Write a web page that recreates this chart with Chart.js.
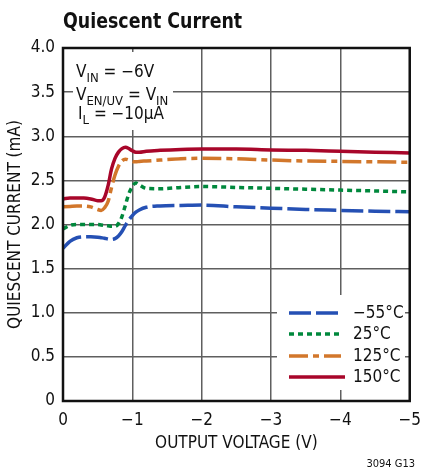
<!DOCTYPE html>
<html>
<head>
<meta charset="utf-8">
<script src="https://cdn.jsdelivr.net/npm/chart.js@4.4.1/dist/chart.umd.min.js"></script>
<style>
  html, body { margin: 0; padding: 0; background: #fff; }
  #wrap { width: 430px; height: 473px; position: relative; }
</style>
</head>
<body>
<div id="wrap"><canvas id="myChart"></canvas></div>
<script>
// output voltage (V), shared by all curves
const voltages = [0, -0.1, -0.2, -0.3, -0.4, -0.5, -0.55, -0.6, -0.65, -0.7, -0.75, -0.8, -0.85, -0.9,
  -0.95, -1.0, -1.05, -1.1, -1.2, -1.4, -1.7, -2, -2.5, -3, -3.5, -4, -4.5, -5];

// quiescent current (mA) per temperature
const iqM55 = [1.73, 1.81, 1.85, 1.86, 1.86, 1.855, 1.85, 1.845, 1.835, 1.83, 1.84, 1.87, 1.92, 1.99,
  2.05, 2.10, 2.14, 2.165, 2.195, 2.21, 2.215, 2.22, 2.20, 2.185, 2.17, 2.16, 2.15, 2.145];
const iq25 = [1.95, 1.99, 2.00, 2.00, 2.00, 2.00, 1.995, 1.99, 1.985, 1.98, 1.98, 2.01, 2.09, 2.22,
  2.35, 2.43, 2.47, 2.45, 2.41, 2.405, 2.42, 2.43, 2.42, 2.41, 2.40, 2.39, 2.38, 2.37];
const iq125 = [2.20, 2.205, 2.21, 2.21, 2.20, 2.17, 2.16, 2.19, 2.26, 2.42, 2.56, 2.66, 2.72, 2.74,
  2.73, 2.715, 2.71, 2.715, 2.72, 2.73, 2.745, 2.75, 2.745, 2.73, 2.72, 2.715, 2.71, 2.705];
const iq150 = [2.29, 2.30, 2.30, 2.30, 2.29, 2.27, 2.27, 2.31, 2.44, 2.63, 2.75, 2.82, 2.86, 2.875,
  2.86, 2.835, 2.82, 2.82, 2.83, 2.84, 2.85, 2.855, 2.855, 2.845, 2.84, 2.83, 2.82, 2.81];

const seriesLabels = ["\u221255\u00b0C", "25\u00b0C", "125\u00b0C", "150\u00b0C"];
const xTicks = [0, -1, -2, -3, -4, -5];
const yTicks = [0, 0.5, 1.0, 1.5, 2.0, 2.5, 3.0, 3.5, 4.0];

const FONT = "'Liberation Sans Narrow', 'DejaVu Sans Condensed', 'Roboto Condensed', sans-serif";
const styles = [
  { color: "#2550b4", dash: [22, 5] },
  { color: "#00883c", dash: [5, 4] },
  { color: "#d2772b", dash: [19, 5, 6, 5] },
  { color: "#a8062a", dash: [] },
];

function pts(vals) {
  return voltages.map((v, i) => ({ x: v, y: vals[i] }));
}

const allSeries = [iqM55, iq25, iq125, iq150];

// white boxes, notes, legend, frame, title
const decor = {
  id: "decor",
  beforeDatasetsDraw(chart) {
    const ctx = chart.ctx;
    ctx.save();
    ctx.fillStyle = "#fff";
    ctx.fillRect(73, 52, 100, 78);
    ctx.fillRect(277, 295, 128, 95);

    ctx.fillStyle = "#111";
    ctx.textBaseline = "alphabetic";
    const big = "17px " + FONT, small = "13px " + FONT;
    function line(parts, x, y) {
      parts.forEach(p => {
        ctx.font = p.sub ? small : big;
        ctx.fillText(p.t, x, y + (p.sub ? 5 : 0));
        x += ctx.measureText(p.t).width;
      });
    }
    line([{ t: "V" }, { t: "IN", sub: 1 }, { t: " = \u22126V" }], 76, 77);
    line([{ t: "V" }, { t: "EN/UV", sub: 1 }, { t: " = V" }, { t: "IN", sub: 1 }], 76, 100);
    line([{ t: "I" }, { t: "L", sub: 1 }, { t: " = \u221210\u03bcA" }], 78, 119);

    // legend
    const rows = [313, 334, 356, 377];
    rows.forEach((y, i) => {
      ctx.strokeStyle = styles[i].color;
      ctx.lineWidth = 3.5;
      ctx.setLineDash(styles[i].dash);
      ctx.beginPath();
      ctx.moveTo(289, y);
      ctx.lineTo(i === 3 ? 345 : 341, y);
      ctx.stroke();
      ctx.setLineDash([]);
      ctx.fillStyle = "#111";
      ctx.font = "17px " + FONT;
      ctx.textBaseline = "middle";
      ctx.fillText(seriesLabels[i], 353, y + 1);
    });
    ctx.restore();
  },
  afterDatasetsDraw(chart) {
    const { ctx, chartArea: a } = chart;
    ctx.save();
    ctx.strokeStyle = "#111";
    ctx.lineWidth = 2.5;
    ctx.strokeRect(a.left, a.top, a.right - a.left, a.bottom - a.top);
    ctx.restore();
  },
  afterDraw(chart) {
    const ctx = chart.ctx;
    ctx.save();
    ctx.fillStyle = "#111";
    ctx.textBaseline = "alphabetic";
    // narrow the bold title to match the condensed face
    ctx.translate(63, 28);
    ctx.scale(0.88, 1);
    ctx.font = "bold 22px " + FONT;
    ctx.fillText("Quiescent Current", 0, 0);
    ctx.setTransform(1, 0, 0, 1, 0, 0);
    ctx.font = "11px " + FONT;
    ctx.textAlign = "right";
    ctx.fillText("3094 G13", 415, 467);
    ctx.restore();
  }
};

Chart.defaults.font.family = FONT;
Chart.defaults.color = "#111";

new Chart(document.getElementById("myChart"), {
  type: "line",
  data: {
    datasets: allSeries.map((vals, i) => ({
      label: seriesLabels[i],
      data: pts(vals),
      borderColor: styles[i].color,
      borderDash: styles[i].dash,
      borderWidth: 3.5,
      pointRadius: 0,
      fill: false,
      cubicInterpolationMode: "monotone",
    })),
  },
  options: {
    responsive: true,
    maintainAspectRatio: false,
    animation: false,
    layout: { padding: { top: 48, right: 15, left: 0, bottom: 0 } },
    plugins: { legend: { display: false }, tooltip: { enabled: false } },
    scales: {
      x: {
        type: "linear",
        reverse: true,
        min: -5,
        max: 0,
        afterBuildTicks: (s) => { s.ticks = xTicks.map(v => ({ value: v })); },
        afterFit: (s) => { s.height = 72; },
        grid: { color: "#5f5f5f", lineWidth: 1.5, drawTicks: false },
        border: { display: false },
        ticks: {
          padding: 9,
          font: { size: 17 },
          maxRotation: 0,
          callback: (v) => v === 0 ? "0" : "\u2212" + Math.abs(v),
        },
        title: {
          display: true,
          text: "OUTPUT VOLTAGE (V)",
          font: { size: 17 },
          padding: { top: 0, bottom: 19 },
        },
      },
      y: {
        min: 0,
        max: 4,
        afterBuildTicks: (s) => { s.ticks = yTicks.map(v => ({ value: v })); },
        afterFit: (s) => { s.width = 63; },
        grid: { color: "#5f5f5f", lineWidth: 1.5, drawTicks: false },
        border: { display: false },
        ticks: {
          padding: 8,
          font: { size: 17 },
          callback: (v) => v === 0 ? "0" : v.toFixed(1),
        },
        title: {
          display: true,
          text: "QUIESCENT CURRENT (mA)",
          font: { size: 17 },
          padding: { top: 5, bottom: 0 },
        },
      },
    },
  },
  plugins: [decor],
});
</script>
</body>
</html>
